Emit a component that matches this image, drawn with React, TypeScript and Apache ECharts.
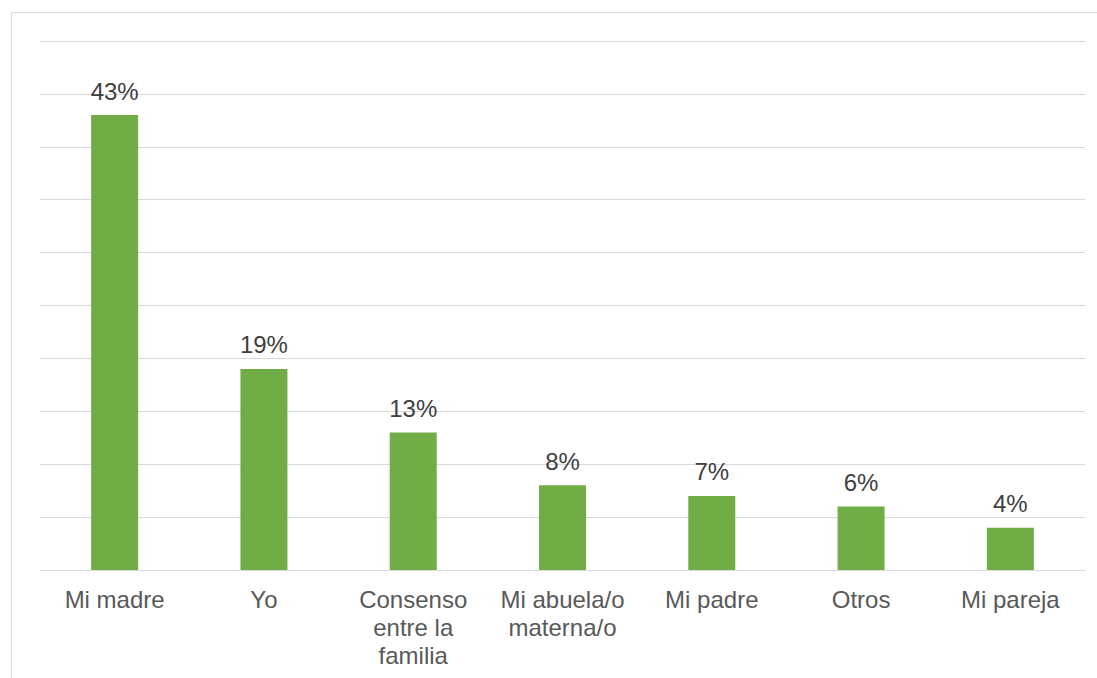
import React, { useEffect, useRef } from "react";
import * as echarts from "echarts";

const categories = [
  "Mi madre",
  "Yo",
  "Consenso\nentre la\nfamilia",
  "Mi abuela/o\nmaterna/o",
  "Mi padre",
  "Otros",
  "Mi pareja",
];
const values = [43, 19, 13, 8, 7, 6, 4];
const yMin = 0;
const yMax = 50;
const yInterval = 5;

export default function App() {
  const ref = useRef<HTMLDivElement>(null);
  useEffect(() => {
    if (!ref.current) return;
    const chart = echarts.init(ref.current, null, { renderer: "svg" });
    chart.setOption({
      animation: false,
      backgroundColor: "#ffffff",
      textStyle: { fontFamily: "Liberation Sans, Arial, sans-serif" },
      graphic: [
        {
          type: "rect",
          shape: { x: 11.5, y: 12.5, width: 1200, height: 800 },
          style: { fill: "none", stroke: "#d9d9d9", lineWidth: 1 },
          silent: true,
          z: -10,
        },
      ],
      grid: { left: 40, right: 12, top: 41, bottom: 108, containLabel: false },
      xAxis: {
        type: "category",
        data: categories,
        axisLine: { show: true, lineStyle: { color: "#d9d9d9", width: 1 } },
        axisTick: { show: false },
        axisLabel: {
          color: "#595959",
          fontSize: 24,
          lineHeight: 28,
          margin: 15,
          interval: 0,
          fontFamily: "Liberation Sans, Arial, sans-serif",
        },
      },
      yAxis: {
        type: "value",
        min: yMin,
        max: yMax,
        interval: yInterval,
        axisLabel: { show: false },
        axisLine: { show: false },
        axisTick: { show: false },
        splitLine: { show: true, lineStyle: { color: "#d9d9d9", width: 1 } },
      },
      series: [
        {
          type: "bar",
          data: values,
          barWidth: 47,
          itemStyle: { color: "#70ad47" },
          label: {
            show: true,
            position: "top",
            distance: 12,
            formatter: "{c}%",
            color: "#404040",
            fontSize: 24,
            fontFamily: "Liberation Sans, Arial, sans-serif",
          },
        },
      ],
    });
    return () => chart.dispose();
  }, []);
  return (
    <div
      ref={ref}
      style={{ position: "fixed", left: 0, top: 0, width: 1097, height: 678 }}
    />
  );
}
